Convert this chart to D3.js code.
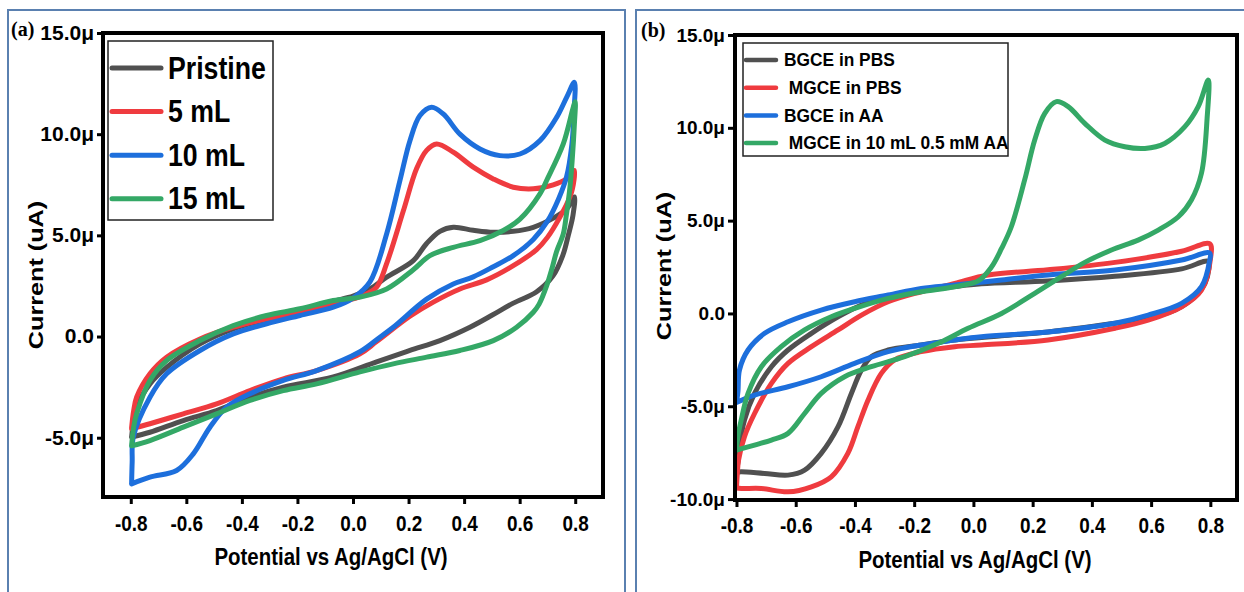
<!DOCTYPE html>
<html>
<head>
<meta charset="utf-8">
<script src="https://cdn.jsdelivr.net/npm/d3@7"></script>
<style>
  html, body { margin: 0; padding: 0; background: #fff; }
  svg { display: block; }
  text { font-family: "Liberation Sans", Arial, sans-serif; font-weight: bold; fill: #000; }
</style>
</head>
<body>
<svg id="chart" width="1244" height="592"></svg>
<script>
// ---- axis ticks ----
const potentialTicks = [-0.8, -0.6, -0.4, -0.2, 0.0, 0.2, 0.4, 0.6, 0.8];
const potentialTickLabels = ["-0.8", "-0.6", "-0.4", "-0.2", "0.0", "0.2", "0.4", "0.6", "0.8"];
const currentTicksA = [-5, 0, 5, 10, 15];
const currentTickLabelsA = ["-5.0μ", "0.0", "5.0μ", "10.0μ", "15.0μ"];
const currentTicksB = [-10, -5, 0, 5, 10, 15];
const currentTickLabelsB = ["-10.0μ", "-5.0μ", "0.0", "5.0μ", "10.0μ", "15.0μ"];

// ---- series names and colours ----
const seriesNamesA = ["Pristine", "5 mL", "10 mL", "15 mL"];
const seriesNamesB = ["BGCE in PBS", " MGCE in PBS", "BGCE in AA", " MGCE in 10 mL 0.5 mM AA"];
const seriesColors = ["#505050", "#ef3b3f", "#1d6fdc", "#34a866"];

// ---- voltammograms (a): [potential V, current µA], forward sweep then return sweep ----
const pristine = [
  [-0.797, -4.97], [-0.79, -4.2], [-0.779, -3.49], [-0.731, -2.34], [-0.671, -1.52], [-0.551, -0.36],
  [-0.431, 0.38], [-0.311, 0.85], [-0.191, 1.28], [-0.071, 1.75], [0.0, 2.0], [0.06, 2.35],
  [0.121, 2.93], [0.217, 3.75], [0.265, 4.6], [0.313, 5.2], [0.361, 5.4], [0.433, 5.25],
  [0.505, 5.15], [0.577, 5.2], [0.649, 5.4], [0.721, 5.85], [0.769, 6.3], [0.797, 6.9],
  [0.792, 6.0], [0.775, 5.0], [0.755, 4.0], [0.72, 3.0], [0.66, 2.2], [0.577, 1.65],
  [0.5, 1.05], [0.421, 0.46], [0.313, -0.2], [0.205, -0.69], [0.085, -1.25], [-0.071, -2.0],
  [-0.251, -2.5], [-0.371, -3.0], [-0.491, -3.66], [-0.611, -4.15], [-0.731, -4.73], [-0.797, -4.97]
];
const mL5 = [
  [-0.797, -4.5], [-0.79, -3.7], [-0.779, -3.0], [-0.731, -1.84], [-0.671, -1.02], [-0.551, -0.12],
  [-0.431, 0.46], [-0.311, 0.87], [-0.191, 1.2], [-0.071, 1.61], [0.037, 2.03], [0.085, 2.44],
  [0.121, 3.6], [0.181, 6.2], [0.229, 8.3], [0.265, 9.2], [0.301, 9.52], [0.361, 9.11],
  [0.433, 8.37], [0.505, 7.79], [0.577, 7.38], [0.649, 7.3], [0.721, 7.5], [0.769, 7.8], [0.797, 8.2],
  [0.79, 7.3], [0.781, 6.9], [0.745, 5.9], [0.7, 4.9], [0.661, 4.3], [0.577, 3.5], [0.481, 2.8],
  [0.385, 2.35], [0.289, 1.7], [0.205, 1.0], [0.085, -0.25], [0.025, -0.85], [-0.131, -1.68],
  [-0.251, -2.09], [-0.371, -2.67], [-0.491, -3.33], [-0.611, -3.82], [-0.731, -4.31], [-0.797, -4.56]
];
const mL10 = [
  [-0.797, -7.28], [-0.795, -6.2], [-0.791, -4.97], [-0.731, -3.0], [-0.671, -1.84], [-0.551, -0.69],
  [-0.431, 0.13], [-0.311, 0.63], [-0.191, 1.04], [-0.071, 1.45], [0.0, 1.9], [0.061, 2.7],
  [0.121, 5.07], [0.169, 7.71], [0.205, 9.68], [0.241, 10.92], [0.283, 11.33], [0.325, 11.0],
  [0.385, 10.0], [0.457, 9.27], [0.529, 8.94], [0.601, 9.02], [0.673, 9.68], [0.733, 10.83],
  [0.769, 11.82], [0.797, 12.56],
  [0.795, 11.0], [0.788, 9.5], [0.769, 7.9], [0.74, 6.8], [0.7, 5.7], [0.649, 4.8], [0.577, 4.0],
  [0.505, 3.45], [0.433, 2.95], [0.361, 2.6], [0.265, 1.85], [0.145, 0.46], [0.097, -0.03],
  [0.025, -0.75], [-0.131, -1.68], [-0.251, -2.17], [-0.371, -2.83], [-0.455, -3.49], [-0.515, -4.48],
  [-0.575, -5.8], [-0.635, -6.62], [-0.731, -6.95], [-0.797, -7.28]
];
const mL15 = [
  [-0.797, -5.4], [-0.79, -4.5], [-0.779, -3.82], [-0.731, -2.17], [-0.671, -1.19], [-0.551, -0.2],
  [-0.431, 0.54], [-0.311, 1.04], [-0.191, 1.37], [-0.071, 1.78], [0.025, 1.95], [0.121, 2.35],
  [0.217, 3.3], [0.277, 4.0], [0.361, 4.41], [0.457, 4.74], [0.541, 5.24], [0.601, 5.8],
  [0.673, 7.05], [0.697, 7.71], [0.757, 9.52], [0.793, 11.33], [0.8, 11.6],
  [0.797, 10.5], [0.789, 8.7], [0.781, 7.38], [0.768, 6.0], [0.757, 5.07], [0.733, 4.2],
  [0.715, 3.3], [0.697, 2.5], [0.67, 1.6], [0.649, 1.2], [0.589, 0.46], [0.505, -0.2],
  [0.385, -0.69], [0.265, -1.02], [0.145, -1.35], [0.025, -1.75], [-0.131, -2.34], [-0.251, -2.67],
  [-0.371, -3.16], [-0.491, -3.82], [-0.611, -4.48], [-0.731, -5.14], [-0.797, -5.4]
];

// ---- voltammograms (b) ----
const bgcePbs = [
  [-0.8, -8.55], [-0.795, -8.0], [-0.79, -7.18], [-0.773, -5.74], [-0.739, -4.31], [-0.682, -2.87],
  [-0.626, -1.97], [-0.547, -1.07], [-0.457, -0.18], [-0.378, 0.45], [-0.288, 0.85], [-0.176, 1.2],
  [-0.063, 1.45], [0.027, 1.6], [0.252, 1.75], [0.478, 2.0], [0.703, 2.4], [0.793, 2.8],
  [0.795, 2.4], [0.782, 1.62], [0.748, 0.9], [0.681, 0.18], [0.59, -0.26], [0.478, -0.53],
  [0.252, -1.0], [0.095, -1.2], [-0.063, -1.43], [-0.176, -1.7], [-0.288, -1.97], [-0.345, -2.33],
  [-0.378, -3.05], [-0.412, -4.31], [-0.457, -6.1], [-0.514, -7.54], [-0.57, -8.44], [-0.626, -8.71],
  [-0.705, -8.62], [-0.784, -8.53], [-0.8, -8.55]
];
const mgcePbs = [
  [-0.8, -9.4], [-0.797, -8.6], [-0.793, -7.9], [-0.773, -6.64], [-0.739, -5.39], [-0.682, -3.77],
  [-0.626, -2.69], [-0.547, -1.79], [-0.457, -0.89], [-0.378, -0.09], [-0.288, 0.63], [-0.176, 1.17],
  [-0.063, 1.62], [0.05, 2.07], [0.252, 2.35], [0.478, 2.75], [0.703, 3.35], [0.798, 3.75],
  [0.8, 2.9], [0.77, 1.26], [0.703, 0.36], [0.59, -0.36], [0.478, -0.8], [0.252, -1.43],
  [0.027, -1.7], [-0.063, -1.79], [-0.176, -2.06], [-0.267, -2.51], [-0.311, -3.23], [-0.356, -4.67],
  [-0.39, -6.1], [-0.424, -7.54], [-0.48, -8.8], [-0.547, -9.34], [-0.626, -9.61], [-0.716, -9.43],
  [-0.784, -9.43], [-0.8, -9.4]
];
const bgceAa = [
  [-0.8, -4.8], [-0.795, -4.2], [-0.79, -3.05], [-0.761, -1.97], [-0.705, -1.07], [-0.626, -0.45],
  [-0.514, 0.18], [-0.401, 0.63], [-0.288, 0.99], [-0.176, 1.35], [-0.063, 1.53], [0.095, 1.8],
  [0.252, 2.07], [0.478, 2.34], [0.703, 2.88], [0.798, 3.25],
  [0.797, 2.8], [0.77, 1.44], [0.703, 0.54], [0.59, -0.09], [0.478, -0.53], [0.252, -1.0],
  [0.027, -1.25], [-0.063, -1.43], [-0.176, -1.7], [-0.288, -2.06], [-0.401, -2.69], [-0.514, -3.41],
  [-0.626, -3.95], [-0.739, -4.4], [-0.8, -4.8]
];
const mgceAa = [
  [-0.8, -7.36], [-0.795, -6.6], [-0.784, -5.74], [-0.761, -4.31], [-0.716, -2.87], [-0.649, -1.79],
  [-0.57, -0.89], [-0.48, -0.18], [-0.401, 0.27], [-0.288, 0.81], [-0.176, 1.17], [-0.063, 1.44],
  [0.016, 1.75], [0.061, 2.5], [0.095, 3.5], [0.128, 4.67], [0.173, 7.19], [0.207, 9.34],
  [0.241, 10.78], [0.28, 11.41], [0.32, 11.14], [0.376, 10.24], [0.444, 9.34], [0.511, 8.98],
  [0.579, 8.89], [0.646, 9.16], [0.714, 10.06], [0.759, 11.14], [0.793, 12.57],
  [0.789, 10.5], [0.77, 7.55], [0.736, 6.11], [0.692, 5.21], [0.624, 4.49], [0.556, 3.95],
  [0.466, 3.42], [0.376, 2.75], [0.297, 1.98], [0.207, 1.08], [0.095, 0.0], [-0.018, -0.8],
  [-0.119, -1.61], [-0.232, -2.33], [-0.345, -2.87], [-0.435, -3.41], [-0.514, -4.31], [-0.57, -5.39],
  [-0.626, -6.46], [-0.682, -6.82], [-0.739, -7.09], [-0.8, -7.36]
];

const svg = d3.select("#chart");

// shrink or stretch a text run horizontally by a factor of its natural width
function fitWidth(sel, k) {
  sel.each(function () {
    const w = this.getComputedTextLength();
    d3.select(this).attr("textLength", w * k).attr("lengthAdjust", "spacingAndGlyphs");
  });
}

// ---- outer panel frames ----
const frameColor = "#5a80b0";
svg.append("path").attr("fill", "none").attr("stroke", frameColor).attr("stroke-width", 2)
  .attr("d", "M8,600 V10 H625 V600");
svg.append("path").attr("fill", "none").attr("stroke", frameColor).attr("stroke-width", 2)
  .attr("d", "M636,600 V10 H1250");

function drawPanel(cfg) {
  const x = d3.scaleLinear().domain(cfg.xDomain).range(cfg.xRange);
  const y = d3.scaleLinear().domain(cfg.yDomain).range(cfg.yRange);
  const g = svg.append("g");

  // curves
  const line = d3.line().x(d => x(d[0])).y(d => y(d[1])).curve(d3.curveCatmullRom.alpha(0.5));
  cfg.series.forEach((s, i) => {
    g.append("path").datum(s).attr("d", line)
      .attr("fill", "none").attr("stroke", seriesColors[i])
      .attr("stroke-width", 5).attr("stroke-linejoin", "round").attr("stroke-linecap", "round");
  });

  // x axis
  const xa = g.append("g").attr("transform", `translate(0,${cfg.yRange[0]})`)
    .call(d3.axisBottom(x).tickValues(potentialTicks)
      .tickFormat((d, i) => potentialTickLabels[i]).tickSize(7).tickSizeOuter(0).tickPadding(cfg.xPad));
  xa.selectAll(".tick line").attr("stroke", "#000").attr("stroke-width", 3);
  xa.selectAll(".tick text").style("font-size", "22px").style("font-family", "'Liberation Sans', Arial, sans-serif").style("font-weight", "bold")
    .call(fitWidth, 0.86);
  xa.select(".domain").remove();

  // y axis
  const ya = g.append("g").attr("transform", `translate(${cfg.xRange[0]},0)`)
    .call(d3.axisLeft(y).tickValues(cfg.yTicks)
      .tickFormat((d, i) => cfg.yTickLabels[i]).tickSize(cfg.yTickSize).tickSizeOuter(0).tickPadding(cfg.yPad));
  ya.selectAll(".tick line").attr("stroke", "#000").attr("stroke-width", 3);
  ya.selectAll(".tick text").style("font-size", cfg.yFont + "px").style("font-family", "'Liberation Sans', Arial, sans-serif").style("font-weight", "bold")
    .call(fitWidth, cfg.yFit);
  ya.select(".domain").remove();

  // plot frame
  g.append("rect")
    .attr("x", cfg.xRange[0]).attr("y", cfg.yRange[1])
    .attr("width", cfg.xRange[1] - cfg.xRange[0]).attr("height", cfg.yRange[0] - cfg.yRange[1])
    .attr("fill", "none").attr("stroke", "#000").attr("stroke-width", 4);

  // axis titles
  g.append("text").attr("x", cfg.xTitle[0]).attr("y", cfg.xTitle[1])
    .attr("text-anchor", "middle").style("font-size", "23.5px")
    .text("Potential vs Ag/AgCl (V)").call(fitWidth, 0.87);
  g.append("text").attr("transform", `translate(${cfg.yTitle[0]},${cfg.yTitle[1]}) rotate(-90)`)
    .attr("text-anchor", "middle").style("font-size", "21px")
    .text("Current (uA)").call(fitWidth, 1.2);

  // panel tag
  g.append("text").attr("x", cfg.tag[0]).attr("y", cfg.tag[1])
    .style("font-family", "'Liberation Serif', 'Times New Roman', serif").style("font-size", "20px")
    .text(cfg.tagText);

  // legend
  const L = cfg.legend;
  g.append("rect").attr("x", L.box[0]).attr("y", L.box[1]).attr("width", L.box[2]).attr("height", L.box[3])
    .attr("fill", "#fff").attr("stroke", "#222").attr("stroke-width", 1.5);
  cfg.names.forEach((name, i) => {
    const cy = L.y0 + i * L.dy;
    g.append("line").attr("x1", L.x0).attr("x2", L.x1).attr("y1", cy).attr("y2", cy)
      .attr("stroke", seriesColors[i]).attr("stroke-width", L.lw).attr("stroke-linecap", "round");
    g.append("text").attr("x", L.tx).attr("y", cy + L.base)
      .attr("xml:space", "preserve").style("white-space", "pre")
      .style("font-size", L.font + "px").text(name).call(fitWidth, L.fit);
  });
}

drawPanel({
  xDomain: [-0.9, 0.9], xRange: [103, 603],
  yDomain: [-7.93, 15], yRange: [497, 33],
  yTicks: currentTicksA, yTickLabels: currentTickLabelsA,
  yTickSize: 6, yPad: 3, yFont: 20, yFit: 1.05, xPad: 11,
  series: [pristine, mL5, mL10, mL15], names: seriesNamesA,
  xTitle: [331, 565], yTitle: [43, 275],
  tag: [11, 36], tagText: "(a)",
  legend: { box: [108, 41, 165, 179], x0: 112, x1: 161, y0: 68, dy: 43.6, lw: 5,
            tx: 168, base: 10.5, font: 31, fit: 0.86 }
});

drawPanel({
  xDomain: [-0.805, 0.89], xRange: [735, 1237],
  yDomain: [-10.05, 15], yRange: [500, 35],
  yTicks: currentTicksB, yTickLabels: currentTickLabelsB,
  yTickSize: 7, yPad: 3, yFont: 19, yFit: 1.0, xPad: 10,
  series: [bgcePbs, mgcePbs, bgceAa, mgceAa], names: seriesNamesB,
  xTitle: [975, 568], yTitle: [671, 266],
  tag: [641, 37], tagText: "(b)",
  legend: { box: [743, 43, 265, 113], x0: 746, x1: 776, y0: 60, dy: 27.7, lw: 4.5,
            tx: 784, base: 6.3, font: 17.7, fit: 0.98 }
});
</script>
</body>
</html>
